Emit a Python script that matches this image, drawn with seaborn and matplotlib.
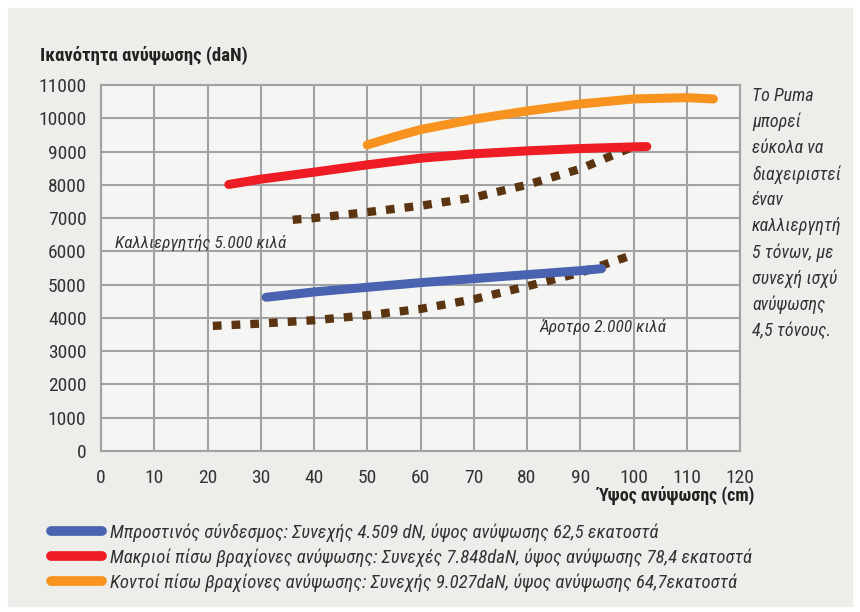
import matplotlib
matplotlib.use("Agg")
import matplotlib.pyplot as plt
from matplotlib import font_manager
from matplotlib.patches import Rectangle
import seaborn as sns

# data
front_x = [31, 40, 50, 60, 70, 80, 90, 94]
front_y = [4620, 4780, 4920, 5060, 5180, 5300, 5420, 5480]

long_x = [24, 30, 40, 50, 60, 70, 80, 90, 100, 102.5]
long_y = [8010, 8170, 8380, 8600, 8800, 8930, 9020, 9090, 9140, 9150]

short_x = [50, 55, 60, 70, 80, 90, 100, 110, 115]
short_y = [9200, 9440, 9660, 9970, 10220, 10430, 10580, 10620, 10580]

cult_x = [36, 40, 50, 60, 70, 80, 90, 100]
cult_y = [6950, 7000, 7180, 7370, 7620, 8000, 8480, 9150]

plough_x = [21, 30, 40, 50, 60, 70, 80, 90, 100]
plough_y = [3760, 3830, 3930, 4080, 4270, 4560, 4950, 5360, 5900]

series_labels = [
    "Μπροστινός σύνδεσμος: Συνεχής 4.509 dN, ύψος ανύψωσης 62,5 εκατοστά",
    "Μακριοί πίσω βραχίονες ανύψωσης: Συνεχές 7.848daN, ύψος ανύψωσης 78,4 εκατοστά",
    "Κοντοί πίσω βραχίονες ανύψωσης: Συνεχής 9.027daN, ύψος ανύψωσης 64,7εκατοστά",
]
note_lines = ["Το Puma", "μπορεί", "εύκολα να", "διαχειριστεί", "έναν",
              "καλλιεργητή", "5 τόνων, με", "συνεχή ισχύ", "ανύψωσης", "4,5 τόνους."]

sns.set_style("white")
# narrow font if there is one, otherwise Roboto
names = {f.name for f in font_manager.fontManager.ttflist}
fams = [n for n in ["Roboto Condensed", "Liberation Sans Narrow", "Roboto"] if n in names]
plt.rcParams["font.family"] = fams + ["DejaVu Sans"]

grid_col = "#a0a2a4"
fig = plt.figure(figsize=(8.6, 6.12), dpi=100, facecolor="white")
fig.patches.append(Rectangle((8 / 860, 6 / 612), 844 / 860, 598 / 612,
                             transform=fig.transFigure, color="#edede9", zorder=-10))
ax = fig.add_axes([101 / 860, 1 - 451 / 612, 639 / 860, 366 / 612])
ax.set_facecolor("#f5f6f4")

solid = dict(linewidth=6.5, solid_capstyle="round")
dotted = dict(linewidth=6, linestyle=(0, (1.05, 1.2)), dash_capstyle="butt", color="#5b3512")

sns.lineplot(x=plough_x, y=plough_y, ax=ax, **dotted)
sns.lineplot(x=cult_x, y=cult_y, ax=ax, **dotted)
sns.lineplot(x=front_x, y=front_y, ax=ax, color="#4a63b0", label=series_labels[0], **solid)
sns.lineplot(x=long_x, y=long_y, ax=ax, color="#ee1c25", label=series_labels[1], **solid)
sns.lineplot(x=short_x, y=short_y, ax=ax, color="#f7931e", label=series_labels[2], **solid)

ax.set_xlim(0, 120)
ax.set_ylim(0, 11000)
ax.set_xticks(range(0, 121, 10))
ax.set_yticks(range(0, 11001, 1000))
ax.grid(True, color=grid_col, linewidth=1.5)
ax.set_axisbelow(True)
for side, sp in ax.spines.items():
    sp.set_color(grid_col)
    sp.set_linewidth(1.5)
ax.tick_params(axis="both", colors=grid_col, length=7, width=1.5, labelsize=14,
               labelcolor="#333333")
ax.tick_params(axis="x", pad=6)
ax.set_xlabel("")
ax.set_ylabel("")

fig.text(40 / 860, 1 - 55 / 612, "Ικανότητα ανύψωσης (daN)", fontsize=13.5,
         fontweight="bold", color="#222222", va="center", ha="left")
fig.text(755 / 860, 1 - 495 / 612, "Ύψος ανύψωσης (cm)", fontsize=13,
         fontweight="bold", color="#222222", va="center", ha="right")

ax.text(2.6, 6250, "Καλλιεργητής 5.000 κιλά", fontsize=12.5, style="italic",
        color="#333333", va="center", ha="left")
ax.text(82.4, 3730, "Άροτρο 2.000 κιλά", fontsize=12.5, style="italic",
        color="#333333", va="center", ha="left")

fig.text(752 / 860, 1 - 87 / 612, "\n".join(note_lines), fontsize=13, style="italic",
         color="#333333", va="top", ha="left", linespacing=1.55)

handles, labels = ax.get_legend_handles_labels()
ax.get_legend().remove()
leg = fig.legend(handles, labels, loc="upper left", bbox_to_anchor=(42 / 860, 1 - 514 / 612),
                 frameon=False, handlelength=2.7, fontsize=13.5, labelspacing=0.35,
                 handletextpad=0.45, borderpad=0)
for line in leg.get_lines():
    line.set_linewidth(7)
for t in leg.get_texts():
    t.set_style("italic")
    t.set_color("#333333")

fig.savefig("out.png", dpi=100, facecolor="white")
